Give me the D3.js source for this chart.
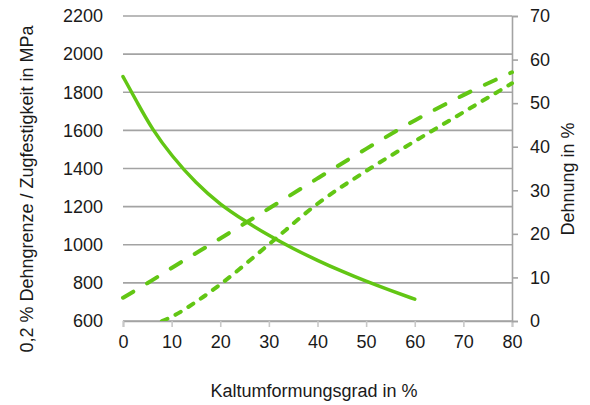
<!DOCTYPE html>
<html><head><meta charset="utf-8">
<script src="https://cdn.jsdelivr.net/npm/d3@7/dist/d3.min.js"></script>
<style>
html,body{margin:0;padding:0;background:#fff;}
text{font-family:"Liberation Sans","DejaVu Sans",sans-serif;fill:#1a1a1a;}
</style></head>
<body><svg id="c" width="590" height="405"></svg>
<script>
// Data (x = Kaltumformungsgrad in %)
const xTicks = [0,10,20,30,40,50,60,70,80];
const leftTicks = [600,800,1000,1200,1400,1600,1800,2000,2200];
const rightTicks = [0,10,20,30,40,50,60,70];
// Zugfestigkeit (MPa, left axis) - long dashed
const tensileX = [0,5,10,20,30,40,50,60,70,80];
const tensileY = [722,798,878,1033,1190,1348,1503,1652,1785,1905];
// 0,2 % Dehngrenze (MPa, left axis) - short dashed
const yieldX = [8,10,15,20,30,40,50,60,70,80];
const yieldY = [600,622,700,792,1002,1215,1387,1543,1695,1847];
// Dehnung (%, right axis) - solid
const elongX = [0,3,6,10,15,20,25,30,35,40,45,50,55,60];
const elongY = [56.1,50.0,44.0,37.9,31.6,26.7,23.0,19.6,16.6,13.9,11.4,9.1,7.0,5.0];

const green = "#62c614";
const grid = "#a3a3a3";
const svg = d3.select("#c");
const m = {l:123, r:512, t:16, b:321};
const x = d3.scaleLinear().domain([0,80]).range([m.l,m.r]);
const yL = d3.scaleLinear().domain([600,2200]).range([m.b,m.t]);
const yR = d3.scaleLinear().domain([0,70]).range([m.b,m.t]);

// gridlines
svg.append("g").selectAll("line").data(leftTicks).join("line")
  .attr("x1",m.l).attr("x2",m.r).attr("y1",d=>yL(d)).attr("y2",d=>yL(d))
  .attr("stroke",grid).attr("stroke-width",1.6);

// left labels
svg.append("g").selectAll("text").data(leftTicks).join("text")
  .attr("x",103).attr("y",d=>yL(d)).attr("dy","0.35em").attr("text-anchor","end")
  .attr("font-size",18).text(d=>d);

// bottom axis
const xAxis = d3.axisBottom(x).tickValues(xTicks).tickSize(6).tickPadding(8);
const gx = svg.append("g").attr("transform",`translate(0,${m.b})`).call(xAxis);
gx.select(".domain").attr("stroke",grid).attr("stroke-width",1.6);
gx.selectAll(".tick line").attr("stroke","#c8c8c8").attr("stroke-width",1.6);
gx.selectAll("text").attr("font-size",18).attr("fill","#1a1a1a").attr("font-family","Liberation Sans");

// right axis
const yAxis = d3.axisRight(yR).tickValues(rightTicks).tickSize(6).tickPadding(12);
const gy = svg.append("g").attr("transform",`translate(${m.r},0)`).call(yAxis);
gy.select(".domain").attr("stroke",grid).attr("stroke-width",1.6);
gy.selectAll(".tick line").attr("stroke",grid).attr("stroke-width",1.6);
gy.selectAll("text").attr("font-size",18).attr("fill","#1a1a1a").attr("font-family","Liberation Sans");

// clip
svg.append("clipPath").attr("id","clip").append("rect")
  .attr("x",m.l-4).attr("y",m.t-4).attr("width",m.r-m.l+8).attr("height",m.b-m.t+4);

const plot = svg.append("g").attr("clip-path","url(#clip)");
const lineL = d3.line().x(d=>x(d[0])).y(d=>yL(d[1])).curve(d3.curveMonotoneX);
const lineR = d3.line().x(d=>x(d[0])).y(d=>yR(d[1])).curve(d3.curveBasis);

plot.append("path").datum(tensileX.map((v,i)=>[v,tensileY[i]]))
  .attr("d",lineL).attr("fill","none").attr("stroke",green).attr("stroke-width",4)
  .attr("stroke-dasharray","12,16").attr("stroke-linecap","round");
plot.append("path").datum(yieldX.map((v,i)=>[v,yieldY[i]]))
  .attr("d",lineL).attr("fill","none").attr("stroke",green).attr("stroke-width",4)
  .attr("stroke-dasharray","6,9").attr("stroke-linecap","round");
plot.append("path").datum(elongX.map((v,i)=>[v,elongY[i]]))
  .attr("d",lineR).attr("fill","none").attr("stroke",green).attr("stroke-width",3.5)
  .attr("stroke-linecap","round");

// axis titles
svg.append("text").attr("x",314).attr("y",397).attr("text-anchor","middle")
  .attr("font-size",18).text("Kaltumformungsgrad in %");
svg.append("text").attr("transform","translate(33,189) rotate(-90)").attr("text-anchor","middle")
  .attr("font-size",18).text("0,2 % Dehngrenze / Zugfestigkeit in MPa");
svg.append("text").attr("transform","translate(574,179) rotate(-90)").attr("text-anchor","middle")
  .attr("font-size",18).text("Dehnung in %");
</script></body></html>
